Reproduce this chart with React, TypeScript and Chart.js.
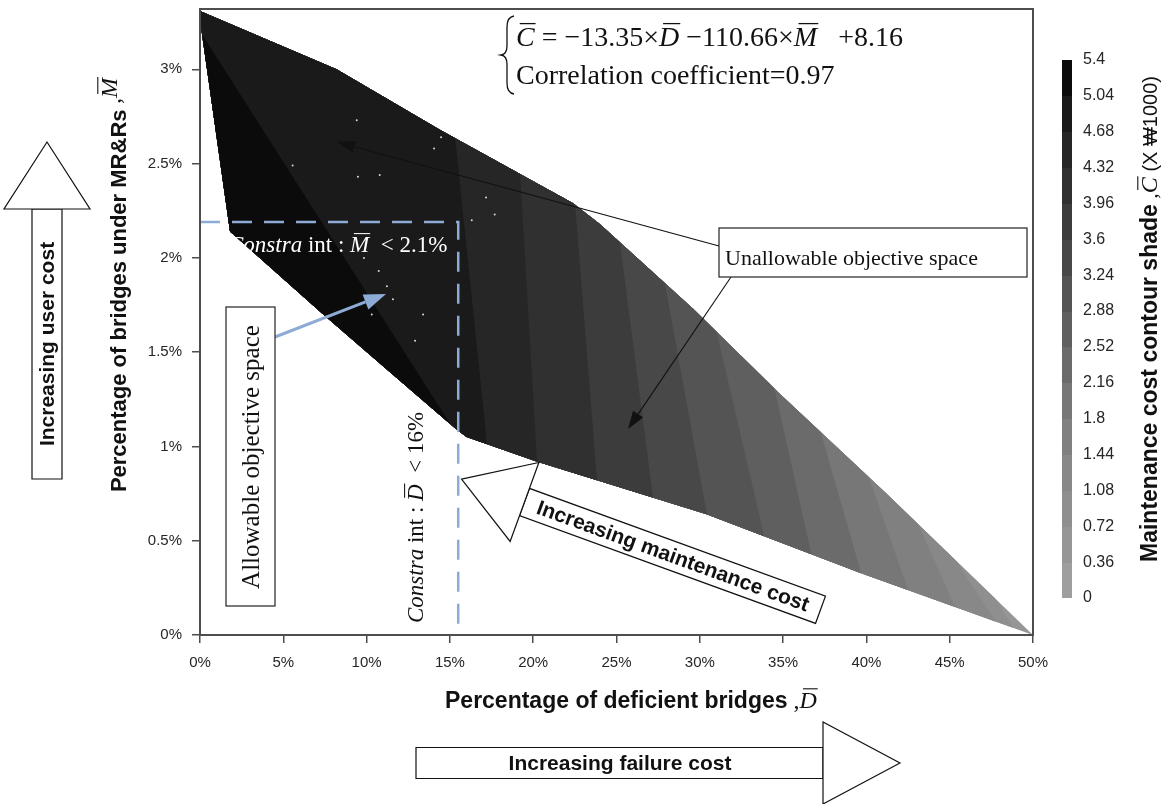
import React, { useEffect, useRef } from 'react';
import { Chart, registerables } from 'chart.js';

Chart.register(...registerables);

const SANS = '"Liberation Sans", Arial, Helvetica, sans-serif';
const SERIF = '"Liberation Serif", "Times New Roman", Times, serif';

// ---- axes ----
const X_MIN = 0;
const X_MAX = 50;
const Y_MIN = 0;
const Y_MAX = 3.32;
const xTickValues = [0, 5, 10, 15, 20, 25, 30, 35, 40, 45, 50];
const yTickValues = [0, 0.5, 1, 1.5, 2, 2.5, 3];

// ---- objective space boundary (D %, M %) ----
const upperD = [0, 8.2, 14.4, 22.4, 24.0, 29.6, 34.8, 41.2, 50];
const upperM = [3.31, 3.0, 2.68, 2.29, 2.18, 1.73, 1.28, 0.75, 0];
const lowerD = [0, 0.1, 1.8, 7.4, 11.2, 15.4, 16.0, 20.2, 30.4, 39.6, 50];
const lowerM = [3.31, 3.2, 2.14, 1.7, 1.41, 1.09, 1.05, 0.92, 0.64, 0.33, 0];

// ---- contour iso-lines (maintenance cost C, x1000) ----
const isoLevels = [0.72, 1.08, 1.44, 1.8, 2.16, 2.52, 2.88, 3.24, 3.6, 3.96, 4.32, 4.68, 5.04];
const isoUpperD = [47.72, 45.32, 43.1, 40.1, 37.21, 34.45, 31.03, 27.91, 25.21, 22.51, 19.21, 15.31, 0.3];
const isoUpperM = [0.2, 0.4, 0.59, 0.85, 1.09, 1.32, 1.6, 1.86, 2.08, 2.29, 2.45, 2.64, 3.16];
const isoLowerD = [48.74, 47.72, 45.32, 42.5, 39.68, 36.67, 33.85, 30.43, 27.19, 23.83, 20.23, 17.23, 15.01];
const isoLowerM = [0.048, 0.08, 0.15, 0.24, 0.33, 0.44, 0.53, 0.64, 0.73, 0.82, 0.92, 1.01, 1.12];

// ---- colour scale (band i covers [0.36 i, 0.36 (i+1)]) ----
const CB_STEP = 0.36;
const CB_MAX = 5.4;
const shadeColors = [
  '#9e9e9e', '#969696', '#8f8f8f', '#888888', '#808080', '#777777', '#6b6b6b', '#5f5f5f',
  '#545454', '#484848', '#3c3c3c', '#303030', '#262626', '#1a1a1a', '#0b0b0b',
];
const colorbarLabels = ['0', '0.36', '0.72', '1.08', '1.44', '1.8', '2.16', '2.52', '2.88', '3.24', '3.6', '3.96', '4.32', '4.68', '5.04', '5.4'];

// ---- constraints ----
const constraintD = [0, 15.5, 15.5];
const constraintM = [2.19, 2.19, 0];

// ---- scattered gaps in the shading ----
const gapD = [9.41, 14.47, 14.05, 5.56, 9.48, 10.79, 17.17, 17.69, 16.31, 9.84, 10.73, 11.22, 11.58, 10.31, 13.39, 12.91];
const gapM = [2.73, 2.64, 2.58, 2.49, 2.43, 2.44, 2.32, 2.23, 2.2, 2.0, 1.93, 1.85, 1.78, 1.7, 1.7, 1.56];

type Part = { t: string; f: string; bar?: boolean; dy?: number };

function richWidth(ctx: CanvasRenderingContext2D, parts: Part[]) {
  let w = 0;
  for (const p of parts) {
    ctx.font = p.f;
    w += ctx.measureText(p.t).width;
  }
  return w;
}

function drawRich(ctx: CanvasRenderingContext2D, parts: Part[], x: number, y: number, color: string) {
  let cx = x;
  ctx.textAlign = 'left';
  ctx.textBaseline = 'alphabetic';
  ctx.fillStyle = color;
  ctx.strokeStyle = color;
  for (const p of parts) {
    ctx.font = p.f;
    const w = ctx.measureText(p.t).width;
    const yy = y + (p.dy || 0);
    ctx.fillText(p.t, cx, yy);
    if (p.bar) {
      const m = p.f.match(/(\d+(?:\.\d+)?)px/);
      const size = m ? parseFloat(m[1]) : 20;
      const by = yy - size * 0.8;
      ctx.lineWidth = Math.max(1, size / 22);
      ctx.beginPath();
      ctx.moveTo(cx + w * 0.2, by);
      ctx.lineTo(cx + w * 1.05, by);
      ctx.stroke();
    }
    cx += w;
  }
}

function lineArrow(ctx: CanvasRenderingContext2D, x1: number, y1: number, x2: number, y2: number, color: string, w: number, hl: number, hw: number) {
  const a = Math.atan2(y2 - y1, x2 - x1);
  const bx = x2 - hl * Math.cos(a);
  const by = y2 - hl * Math.sin(a);
  ctx.strokeStyle = color;
  ctx.fillStyle = color;
  ctx.lineWidth = w;
  ctx.beginPath();
  ctx.moveTo(x1, y1);
  ctx.lineTo(bx, by);
  ctx.stroke();
  ctx.beginPath();
  ctx.moveTo(x2, y2);
  ctx.lineTo(bx - hw * Math.sin(a), by + hw * Math.cos(a));
  ctx.lineTo(bx + hw * Math.sin(a), by - hw * Math.cos(a));
  ctx.closePath();
  ctx.fill();
}

function blockArrow(ctx: CanvasRenderingContext2D, ox: number, oy: number, ang: number, shaftLen: number, sh: number, headLen: number, hh: number) {
  ctx.save();
  ctx.translate(ox, oy);
  ctx.rotate(ang);
  ctx.fillStyle = '#ffffff';
  ctx.strokeStyle = '#111111';
  ctx.lineWidth = 1.2;
  ctx.beginPath();
  ctx.rect(0, -sh, shaftLen, 2 * sh);
  ctx.fill();
  ctx.stroke();
  ctx.beginPath();
  ctx.moveTo(-headLen, 0);
  ctx.lineTo(0, -hh);
  ctx.lineTo(0, hh);
  ctx.closePath();
  ctx.fill();
  ctx.stroke();
  ctx.restore();
}

const contourPlugin = {
  id: 'contourShade',
  beforeDatasetsDraw(chart: any) {
    const { ctx, scales } = chart;
    const px = (d: number) => scales.x.getPixelForValue(d);
    const py = (m: number) => scales.y.getPixelForValue(m);
    ctx.save();
    ctx.beginPath();
    upperD.forEach((d, i) => {
      if (i === 0) ctx.moveTo(px(d), py(upperM[i]));
      else ctx.lineTo(px(d), py(upperM[i]));
    });
    for (let i = lowerD.length - 1; i >= 0; i--) ctx.lineTo(px(lowerD[i]), py(lowerM[i]));
    ctx.closePath();
    ctx.fillStyle = shadeColors[1];
    ctx.fill();
    ctx.clip();
    isoLevels.forEach((lv, i) => {
      const band = Math.round(lv / CB_STEP);
      const x1 = px(isoUpperD[i]);
      const y1 = py(isoUpperM[i]);
      const x2 = px(isoLowerD[i]);
      const y2 = py(isoLowerM[i]);
      const len = Math.hypot(x2 - x1, y2 - y1);
      const ux = (x2 - x1) / len;
      const uy = (y2 - y1) / len;
      const ax = x1 - ux * 2000;
      const ay = y1 - uy * 2000;
      const bx = x2 + ux * 2000;
      const by = y2 + uy * 2000;
      ctx.beginPath();
      ctx.moveTo(ax, ay);
      ctx.lineTo(bx, by);
      ctx.lineTo(bx - 5000, by);
      ctx.lineTo(ax - 5000, ay);
      ctx.closePath();
      ctx.fillStyle = shadeColors[band];
      ctx.fill();
    });
    ctx.restore();
  },
};

const annotationPlugin = {
  id: 'annotations',
  afterDraw(chart: any) {
    const { ctx, chartArea } = chart;
    const { left, top, right, bottom } = chartArea;
    ctx.save();

    // frame
    ctx.strokeStyle = '#4d4d4d';
    ctx.lineWidth = 2;
    ctx.strokeRect(left, top, right - left, bottom - top);

    // regression formula
    ctx.strokeStyle = '#111';
    ctx.lineWidth = 1.3;
    ctx.beginPath();
    ctx.moveTo(514, 16);
    ctx.quadraticCurveTo(507, 17, 507, 27);
    ctx.lineTo(507, 46);
    ctx.quadraticCurveTo(507, 54, 501, 55);
    ctx.quadraticCurveTo(507, 56, 507, 64);
    ctx.lineTo(507, 83);
    ctx.quadraticCurveTo(507, 93, 514, 94);
    ctx.stroke();
    const F = `28px ${SERIF}`;
    const FI = `italic 28px ${SERIF}`;
    drawRich(ctx, [
      { t: 'C', f: FI, bar: true },
      { t: ' = \u221213.35\u00d7', f: F },
      { t: 'D', f: FI, bar: true },
      { t: ' \u2212110.66\u00d7', f: F },
      { t: 'M', f: FI, bar: true },
      { t: '   +8.16', f: F },
    ], 516, 46, '#111');
    drawRich(ctx, [{ t: 'Correlation coefficient=0.97', f: F }], 516, 84, '#111');

    // constraint labels
    const C = `23px ${SERIF}`;
    const CI = `italic 23px ${SERIF}`;
    drawRich(ctx, [
      { t: 'Constra', f: CI },
      { t: ' int : ', f: C },
      { t: 'M', f: CI, bar: true },
      { t: '  < 2.1%', f: C },
    ], 228, 252, '#ffffff');
    ctx.save();
    ctx.translate(423, 623);
    ctx.rotate(-Math.PI / 2);
    drawRich(ctx, [
      { t: 'Constra', f: CI },
      { t: ' int : ', f: C },
      { t: 'D', f: CI, bar: true },
      { t: '  < 16%', f: C },
    ], 0, 0, '#111');
    ctx.restore();

    // allowable objective space
    lineArrow(ctx, 275, 337, 386, 294, '#8eabd5', 3, 22, 8);
    ctx.fillStyle = '#fff';
    ctx.fillRect(226, 307, 49, 299);
    ctx.strokeStyle = '#222';
    ctx.lineWidth = 1.2;
    ctx.strokeRect(226, 307, 49, 299);
    ctx.save();
    ctx.translate(251, 457);
    ctx.rotate(-Math.PI / 2);
    ctx.font = `25px ${SERIF}`;
    ctx.fillStyle = '#111';
    ctx.textAlign = 'center';
    ctx.textBaseline = 'middle';
    ctx.fillText('Allowable objective space', 0, 1);
    ctx.restore();

    // unallowable objective space
    lineArrow(ctx, 719, 246, 337, 142, '#111', 1.1, 18, 6);
    lineArrow(ctx, 731, 277, 628, 429, '#111', 1.1, 18, 6);
    ctx.fillStyle = '#fff';
    ctx.fillRect(719, 228, 308, 49);
    ctx.strokeStyle = '#222';
    ctx.lineWidth = 1.2;
    ctx.strokeRect(719, 228, 308, 49);
    drawRich(ctx, [{ t: 'Unallowable objective space', f: `22px ${SERIF}` }], 725, 265, '#111');

    // block arrows
    const B = `bold 21px ${SANS}`;
    const ang = (20 * Math.PI) / 180;
    blockArrow(ctx, 524.5, 502, ang, 315, 14.5, 67, 42);
    ctx.save();
    ctx.translate(524.5, 502);
    ctx.rotate(ang);
    ctx.font = B;
    ctx.fillStyle = '#111';
    ctx.textAlign = 'center';
    ctx.textBaseline = 'middle';
    ctx.fillText('Increasing maintenance cost', 158, 1);
    ctx.restore();
    blockArrow(ctx, 47, 209, Math.PI / 2, 270, 15, 67, 43);
    ctx.save();
    ctx.translate(47, 344);
    ctx.rotate(-Math.PI / 2);
    ctx.font = B;
    ctx.fillStyle = '#111';
    ctx.textAlign = 'center';
    ctx.textBaseline = 'middle';
    ctx.fillText('Increasing user cost', 0, 1);
    ctx.restore();
    blockArrow(ctx, 823, 763, Math.PI, 407, 15.5, 77, 41);
    ctx.font = B;
    ctx.fillStyle = '#111';
    ctx.textAlign = 'center';
    ctx.textBaseline = 'middle';
    ctx.fillText('Increasing failure cost', 620, 764);

    // axis titles
    drawRich(ctx, [
      { t: 'Percentage of deficient bridges', f: `bold 23px ${SANS}` },
      { t: ' ,', f: `24px ${SERIF}` },
      { t: 'D', f: `italic 24px ${SERIF}`, bar: true },
    ], 445, 708, '#111');

    const yParts: Part[] = [
      { t: 'Percentage of bridges under MR&Rs', f: `bold 22px ${SANS}` },
      { t: ' ,', f: `23px ${SERIF}`, dy: -6 },
      { t: 'M', f: `italic 24px ${SERIF}`, bar: true, dy: -9 },
    ];
    const yW = richWidth(ctx, yParts);
    ctx.save();
    ctx.translate(126, 78 + yW);
    ctx.rotate(-Math.PI / 2);
    drawRich(ctx, yParts, 0, 0, '#111');
    ctx.restore();

    // colour bar
    const cbLeft = 1062;
    const cbW = 10;
    const cbTop = 60;
    const cbBot = 598;
    const cbY = (v: number) => cbBot - (v / CB_MAX) * (cbBot - cbTop);
    shadeColors.forEach((c, i) => {
      const y0 = cbY((i + 1) * CB_STEP);
      const y1 = cbY(i * CB_STEP);
      ctx.fillStyle = c;
      ctx.fillRect(cbLeft, Math.floor(y0), cbW, Math.ceil(y1) - Math.floor(y0));
    });
    ctx.font = `16px ${SANS}`;
    ctx.fillStyle = '#262626';
    ctx.textAlign = 'left';
    ctx.textBaseline = 'middle';
    colorbarLabels.forEach((lab) => {
      ctx.fillText(lab, 1083, cbY(parseFloat(lab)));
    });
    const cParts: Part[] = [
      { t: 'Maintenance cost contour shade', f: `bold 23px ${SANS}` },
      { t: ' ,', f: `22px ${SERIF}` },
      { t: 'C', f: `italic 24px ${SERIF}`, bar: true },
      { t: ' (X \u20a91000)', f: `20px ${SANS}` },
    ];
    ctx.save();
    ctx.translate(1157, 562);
    ctx.rotate(-Math.PI / 2);
    drawRich(ctx, cParts, 0, 0, '#111');
    ctx.restore();

    ctx.restore();
  },
};

export default function App() {
  const canvasRef = useRef<HTMLCanvasElement | null>(null);

  useEffect(() => {
    const canvas = canvasRef.current;
    if (!canvas) return;
    const chart = new Chart(canvas, {
      type: 'scatter',
      data: {
        datasets: [
          {
            label: 'Constraints',
            data: constraintD.map((d, i) => ({ x: d, y: constraintM[i] })),
            showLine: true,
            borderColor: '#8eabd5',
            borderWidth: 2.5,
            borderDash: [20, 12],
            pointRadius: 0,
            fill: false,
          },
          {
            label: 'Gaps',
            data: gapD.map((d, i) => ({ x: d, y: gapM[i] })),
            pointRadius: 1,
            pointBorderWidth: 0,
            backgroundColor: '#d8d8d8',
            borderColor: '#d8d8d8',
          },
        ],
      },
      options: {
        responsive: false,
        animation: false,
        events: [],
        layout: { padding: { top: 9, right: 129, left: 0, bottom: 0 } },
        plugins: { legend: { display: false }, tooltip: { enabled: false } },
        scales: {
          x: {
            type: 'linear',
            min: X_MIN,
            max: X_MAX,
            afterBuildTicks: (s: any) => {
              s.ticks = xTickValues.map((v) => ({ value: v }));
            },
            afterFit: (s: any) => {
              s.height = 169;
              s.paddingLeft = 0;
              s.paddingRight = 0;
            },
            ticks: {
              callback: (v: any) => `${v}%`,
              font: { family: SANS, size: 15 },
              color: '#262626',
              padding: 11,
              maxRotation: 0,
              autoSkip: false,
            },
            grid: { drawOnChartArea: false, drawTicks: true, tickLength: 8, color: '#4d4d4d', lineWidth: 1.5 },
            border: { display: false },
          },
          y: {
            type: 'linear',
            min: Y_MIN,
            max: Y_MAX,
            afterBuildTicks: (s: any) => {
              s.ticks = yTickValues.map((v) => ({ value: v }));
            },
            afterFit: (s: any) => {
              s.width = 200;
              s.paddingTop = 0;
              s.paddingBottom = 0;
            },
            ticks: {
              callback: (v: any) => `${v}%`,
              font: { family: SANS, size: 15 },
              color: '#262626',
              padding: 10,
              autoSkip: false,
            },
            grid: { drawOnChartArea: false, drawTicks: true, tickLength: 8, color: '#4d4d4d', lineWidth: 1.5 },
            border: { display: false },
          },
        },
      },
      plugins: [contourPlugin, annotationPlugin],
    } as any);
    return () => chart.destroy();
  }, []);

  return (
    <div style={{ position: 'fixed', left: 0, top: 0, width: 1162, height: 804, background: '#fff' }}>
      <canvas ref={canvasRef} width={1162} height={804} style={{ display: 'block' }} />
    </div>
  );
}
